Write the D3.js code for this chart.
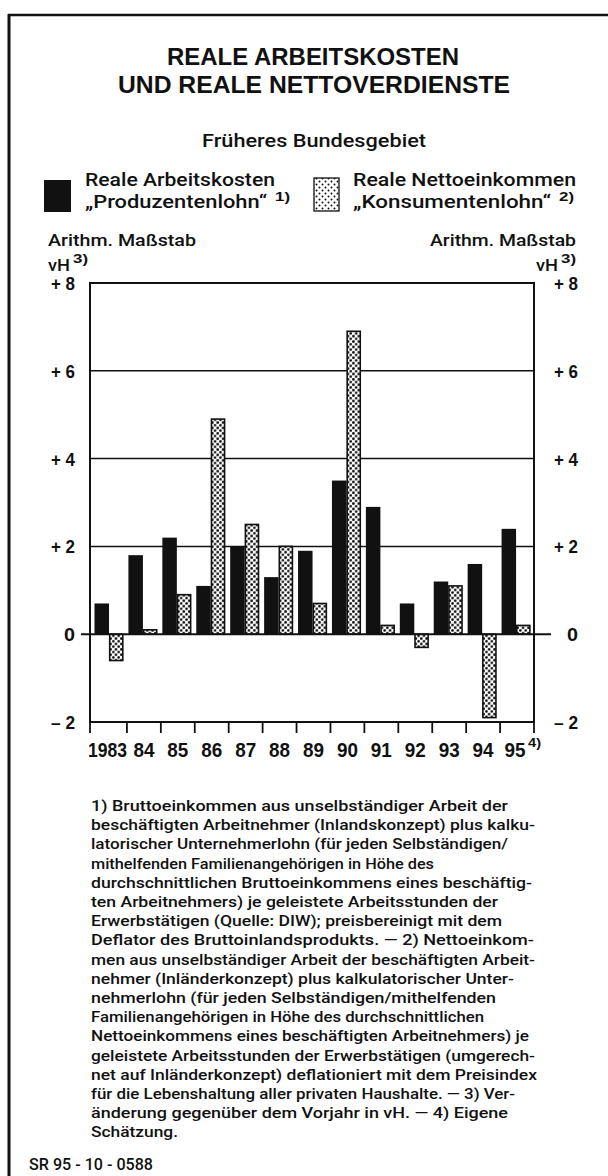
<!DOCTYPE html>
<html>
<head>
<meta charset="utf-8">
<script src="https://cdn.jsdelivr.net/npm/d3@7"></script>
<style>
  html, body { margin: 0; padding: 0; background: #fff; }
  svg { display: block; }
  text { fill: #111; }
</style>
</head>
<body>
<div id="chart"></div>
<script>
// ---- data ----
const years = ["1983", "84", "85", "86", "87", "88", "89", "90", "91", "92", "93", "94", "95"];
const arbeitskosten = [0.7, 1.8, 2.2, 1.1, 2.0, 1.3, 1.9, 3.5, 2.9, 0.7, 1.2, 1.6, 2.4];
const nettoeinkommen = [-0.6, 0.1, 0.9, 4.9, 2.5, 2.0, 0.7, 6.9, 0.2, -0.3, 1.1, -1.9, 0.2];
const yTicks = [-2, 0, 2, 4, 6, 8];
const yTickLabels = ["\u2013 2", "0", "+ 2", "+ 4", "+ 6", "+ 8"];
const seriesKeys = ["arbeitskosten", "nettoeinkommen"];

const titleLines = ["REALE ARBEITSKOSTEN", "UND REALE NETTOVERDIENSTE"];
const subtitle = "Früheres Bundesgebiet";
const footnoteLines = [
  "1) Bruttoeinkommen aus unselbständiger Arbeit  der",
  "beschäftigten Arbeitnehmer (Inlandskonzept) plus kalku-",
  "latorischer Unternehmerlohn (für jeden Selbständigen/",
  "mithelfenden Familienangehörigen in Höhe des",
  "durchschnittlichen Bruttoeinkommens eines beschäftig-",
  "ten Arbeitnehmers) je geleistete Arbeitsstunden der",
  "Erwerbstätigen (Quelle: DIW); preisbereinigt mit dem",
  "Deflator des Bruttoinlandsprodukts. \u2014 2) Nettoeinkom-",
  "men aus unselbständiger Arbeit der beschäftigten Arbeit-",
  "nehmer (Inländerkonzept) plus kalkulatorischer Unter-",
  "nehmerlohn (für jeden Selbständigen/mithelfenden",
  "Familienangehörigen in Höhe des durchschnittlichen",
  "Nettoeinkommens eines beschäftigten Arbeitnehmers) je",
  "geleistete Arbeitsstunden der Erwerbstätigen (umgerech-",
  "net auf Inländerkonzept) deflationiert mit dem Preisindex",
  "für die Lebenshaltung aller privaten Haushalte. \u2014 3) Ver-",
  "änderung gegenüber dem Vorjahr in vH. \u2014 4) Eigene",
  "Schätzung."
];
// right edge of each footnote line (ragged typesetting)
const footnoteRight = [508, 535, 508, 434, 532, 498, 502, 534, 535, 514, 496, 484, 529, 535, 537, 515, 508, 178];
const sourceCode = "SR 95 - 10 - 0588";

// ---- canvas ----
const W = 608, H = 1176;
const svg = d3.select("#chart").append("svg")
  .attr("width", W).attr("height", H)
  .attr("viewBox", `0 0 ${W} ${H}`);

const FONT = "'Liberation Sans', Arial, sans-serif";
const BODY = "Roboto, 'Liberation Sans', sans-serif";

// dot hatch used by the net-income bars
const defs = svg.append("defs");
const P = 5.4;
const pat = defs.append("pattern").attr("id", "dots")
  .attr("patternUnits", "userSpaceOnUse").attr("width", P).attr("height", P);
pat.append("rect").attr("width", P).attr("height", P).attr("fill", "#fff");
pat.append("circle").attr("cx", P / 4).attr("cy", P / 4).attr("r", 1.35).attr("fill", "#111");
pat.append("circle").attr("cx", 3 * P / 4).attr("cy", 3 * P / 4).attr("r", 1.35).attr("fill", "#111");

const patL = defs.append("pattern").attr("id", "dotsLight")
  .attr("patternUnits", "userSpaceOnUse").attr("width", 6).attr("height", 6);
patL.append("rect").attr("width", 6).attr("height", 6).attr("fill", "#fff");
patL.append("circle").attr("cx", 1.5).attr("cy", 1.5).attr("r", 1).attr("fill", "#111");
patL.append("circle").attr("cx", 4.5).attr("cy", 4.5).attr("r", 1).attr("fill", "#111");

// page border (top and left rule)
svg.append("line").attr("x1", 8).attr("x2", W).attr("y1", 15).attr("y2", 15)
  .attr("stroke", "#111").attr("stroke-width", 2.5);
svg.append("line").attr("x1", 9).attr("x2", 9).attr("y1", 14).attr("y2", H)
  .attr("stroke", "#111").attr("stroke-width", 3);

// helper for text fitted to a given width
function fitText(sel, str, x, y, width, opts = {}) {
  const t = sel.append("text")
    .attr("x", x).attr("y", y)
    .attr("font-family", opts.family || FONT)
    .attr("font-size", opts.size || 16)
    .attr("font-weight", opts.weight || "normal")
    .attr("text-anchor", opts.anchor || "start")
    .text(str);
  if (width) t.attr("textLength", width).attr("lengthAdjust", "spacingAndGlyphs");
  return t;
}

// ---- title block ----
fitText(svg, titleLines[0], 313, 65, 292, { size: 24, weight: "bold", anchor: "middle" });
fitText(svg, titleLines[1], 314, 93, 392, { size: 24, weight: "bold", anchor: "middle" });
fitText(svg, subtitle, 314, 147, 224, { size: 18, family: BODY, weight: 500, anchor: "middle" });

// ---- legend ----
const leg = svg.append("g");
leg.append("rect").attr("x", 44).attr("y", 180).attr("width", 27).attr("height", 32).attr("fill", "#111");
fitText(leg, "Reale Arbeitskosten", 85, 186, 190, { size: 18, family: BODY, weight: 500 });
fitText(leg, "\u201EProduzentenlohn\u201C", 85, 208, 182, { size: 18, family: BODY, weight: 500 });
fitText(leg, "1)", 275, 201, 15, { size: 13, weight: "bold" });

leg.append("rect").attr("x", 314).attr("y", 178).attr("width", 25).attr("height", 33)
  .attr("fill", "url(#dotsLight)").attr("stroke", "#111").attr("stroke-width", 1.3);
fitText(leg, "Reale Nettoeinkommen", 353, 186, 223, { size: 18, family: BODY, weight: 500 });
fitText(leg, "\u201EKonsumentenlohn\u201C", 353, 208, 198, { size: 18, family: BODY, weight: 500 });
fitText(leg, "2)", 559, 201, 15, { size: 13, weight: "bold" });

// ---- axis captions ----
fitText(svg, "Arithm. Maßstab", 48, 246, 148, { size: 17, family: BODY, weight: 500 });
fitText(svg, "Arithm. Maßstab", 430, 246, 146, { size: 17, family: BODY, weight: 500 });
fitText(svg, "vH", 48, 271, 22, { size: 17, family: BODY, weight: 500 });
fitText(svg, "3)", 73, 263, 15, { size: 13, weight: "bold" });
fitText(svg, "vH", 536, 271, 22, { size: 17, family: BODY, weight: 500 });
fitText(svg, "3)", 561, 263, 15, { size: 13, weight: "bold" });

// ---- scales ----
const plotL = 90, plotR = 534;
const y = d3.scaleLinear().domain([-2, 8]).range([722, 283]);
const x = d3.scaleBand().domain(years).range([93, plotR]).padding(0);
const xIn = d3.scaleBand().domain(seriesKeys).range([1.5, 30.5]).padding(0);

const plot = svg.append("g");

// horizontal rules at the positive ticks
plot.selectAll("line.grid").data(yTicks.filter(v => v > 0 && v < 8)).join("line")
  .attr("class", "grid")
  .attr("x1", plotL).attr("x2", plotR)
  .attr("y1", d => y(d)).attr("y2", d => y(d))
  .attr("stroke", "#111").attr("stroke-width", 1.5);

// frame
plot.append("rect").attr("x", plotL).attr("y", y(8))
  .attr("width", plotR - plotL).attr("height", y(-2) - y(8))
  .attr("fill", "none").attr("stroke", "#111").attr("stroke-width", 2);

// bars
const rows = years.map((yr, i) => ({ yr, arbeitskosten: arbeitskosten[i], nettoeinkommen: nettoeinkommen[i] }));
const groups = plot.selectAll("g.year").data(rows).join("g")
  .attr("class", "year")
  .attr("transform", d => `translate(${x(d.yr)},0)`);

groups.append("rect")
  .attr("x", xIn("arbeitskosten"))
  .attr("width", xIn.bandwidth())
  .attr("y", d => y(Math.max(0, d.arbeitskosten)))
  .attr("height", d => Math.abs(y(d.arbeitskosten) - y(0)))
  .attr("fill", "#111");

groups.append("rect")
  .attr("x", xIn("nettoeinkommen") + 0.7)
  .attr("width", xIn.bandwidth() - 1.4)
  .attr("y", d => y(Math.max(0, d.nettoeinkommen)))
  .attr("height", d => Math.abs(y(d.nettoeinkommen) - y(0)))
  .attr("fill", "url(#dots)")
  .attr("stroke", "#111").attr("stroke-width", 1.6);

// zero line, slightly protruding on both sides
plot.append("line").attr("x1", 81).attr("x2", 551)
  .attr("y1", y(0)).attr("y2", y(0))
  .attr("stroke", "#111").attr("stroke-width", 2);

// bottom ticks at the year boundaries
const tickXs = [plotL].concat(years.slice(1).map(yr => x(yr))).concat([plotR]);
plot.selectAll("line.xtick").data(tickXs).join("line")
  .attr("class", "xtick")
  .attr("x1", d => d).attr("x2", d => d)
  .attr("y1", y(-2)).attr("y2", y(-2) + 11)
  .attr("stroke", "#111").attr("stroke-width", 1.8);

// year labels
years.forEach((yr, i) => {
  const cx = x(yr) + x.bandwidth() / 2 - (i === 0 ? 2.5 : 0) - (i === years.length - 1 ? 2 : 0);
  fitText(plot, yr, cx, 757, yr.length === 4 ? 39 : 21, { size: 21, weight: "bold", anchor: "middle" });
});
fitText(plot, "4)", 528, 747, 13, { size: 12, weight: "bold" });

// value labels on both sides
yTicks.forEach((v, i) => {
  const lbl = yTickLabels[i];
  const w = lbl.length > 1 ? 24 : 11;
  fitText(plot, lbl, 75, y(v) + 7, w, { size: 19, weight: "bold", anchor: "end" });
  fitText(plot, lbl, 578, y(v) + 7, w, { size: 19, weight: "bold", anchor: "end" });
});

// ---- footnotes ----
const fn = svg.append("g");
footnoteLines.forEach((line, i) => {
  fitText(fn, line, 91, 811 + i * 19.2, footnoteRight[i] - 91, { size: 15.5, family: BODY, weight: 500 });
});
fitText(svg, sourceCode, 29, 1170, 124, { size: 16, family: BODY, weight: 500 });
</script>
</body>
</html>
